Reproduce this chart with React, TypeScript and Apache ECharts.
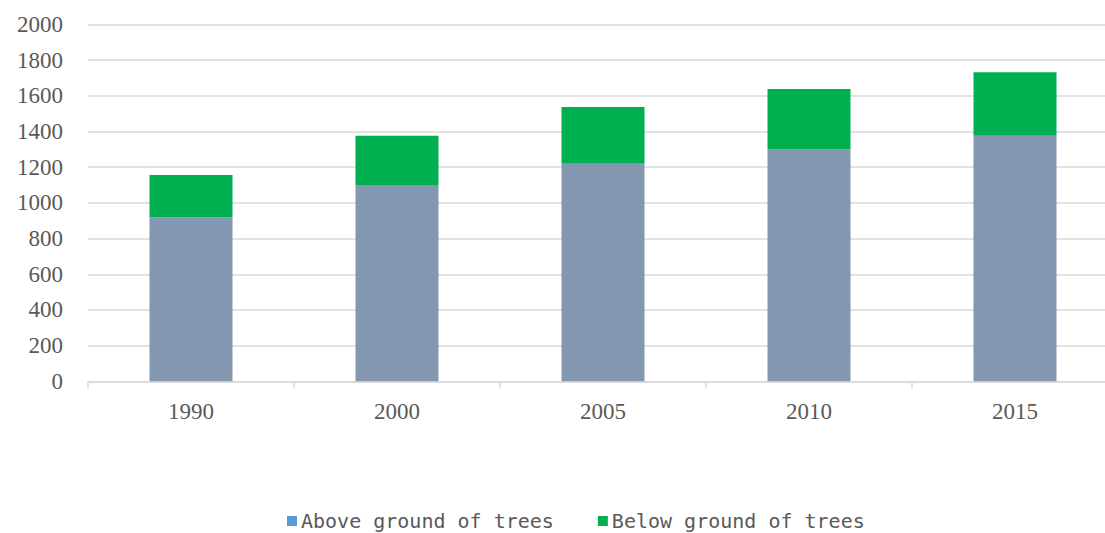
import React, { useEffect, useRef } from "react";
import * as echarts from "echarts";

const categories = ["1990", "2000", "2005", "2010", "2015"];
const aboveGround = [920, 1100, 1220, 1300, 1377];
const belowGround = [237, 276, 317, 338, 356];
const seriesNames = ["Above ground of trees", "Below ground of trees"];
const yTicks = { min: 0, max: 2000, interval: 200 };

export default function App() {
  const ref = useRef<HTMLDivElement>(null);
  useEffect(() => {
    if (!ref.current) return;
    const chart = echarts.init(ref.current, undefined, { renderer: "svg" });
    const serif = "'Liberation Serif', serif";
    chart.setOption({
      animation: false,
      backgroundColor: "#ffffff",
      grid: { left: 88, right: 0, top: 24.5, bottom: 533 - 381.3, containLabel: false },
      legend: {
        left: 282,
        top: 506,
        itemWidth: 10,
        itemHeight: 10,
        itemGap: 44,
        icon: "rect",
        textStyle: { fontFamily: "DejaVu Sans Mono", fontSize: 20, lineHeight: 20, color: "#595959", padding: [0, 0, 0, -1] },
        data: [
          { name: seriesNames[0], itemStyle: { color: "#5B9BD5" } },
          { name: seriesNames[1], itemStyle: { color: "#00B050" } },
        ],
      },
      xAxis: {
        type: "category",
        data: categories,
        axisLine: { lineStyle: { color: "#D9D9D9", width: 1.5 } },
        axisTick: { show: true, length: 7, lineStyle: { color: "#D9D9D9", width: 1.5 } },
        axisLabel: { fontFamily: serif, fontSize: 23, color: "#595959", margin: 19 },
      },
      yAxis: {
        type: "value",
        min: yTicks.min,
        max: yTicks.max,
        interval: yTicks.interval,
        axisLine: { show: false },
        axisTick: { show: false },
        splitLine: { lineStyle: { color: "#D9D9D9", width: 1.5 } },
        axisLabel: {
          fontFamily: serif,
          fontSize: 23,
          color: "#595959",
          margin: 25,
          formatter: (v: number) => String(v),
        },
      },
      series: [
        {
          name: seriesNames[0],
          type: "bar",
          stack: "total",
          barWidth: 83,
          data: aboveGround,
          itemStyle: { color: "#8497B0" },
        },
        {
          name: seriesNames[1],
          type: "bar",
          stack: "total",
          barWidth: 83,
          data: belowGround,
          itemStyle: { color: "#00B050" },
        },
      ],
    });
    return () => chart.dispose();
  }, []);
  return (
    <div style={{ position: "absolute", left: 0, top: 0, width: 1105, height: 533, overflow: "hidden" }}>
      <div ref={ref} style={{ width: 1118, height: 533 }} />
    </div>
  );
}
